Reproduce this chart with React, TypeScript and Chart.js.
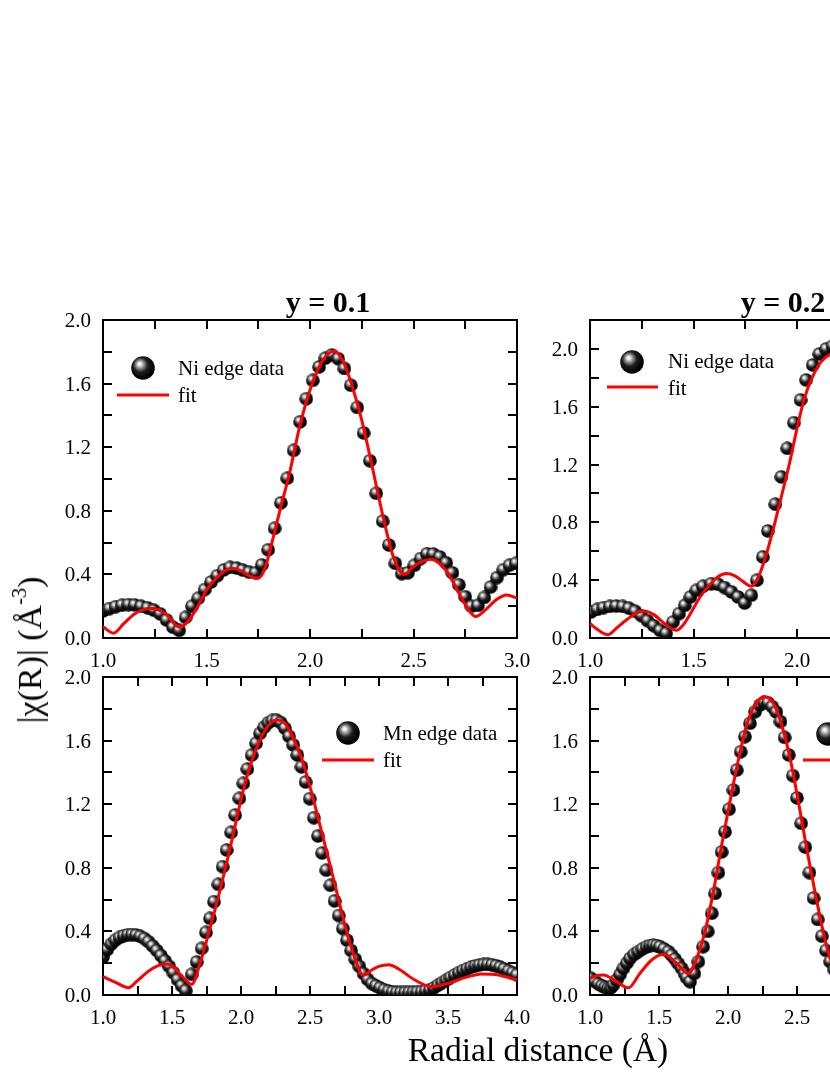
import React, { useEffect, useRef } from "react";
import { Chart, registerables } from "chart.js";

Chart.register(...registerables);

// ---------------- data ----------------
// Panel 1: y = 0.1, Ni edge
const P1_DATA_X = [1.000,1.031,1.061,1.092,1.123,1.153,1.184,1.215,1.245,1.276,1.307,1.338,1.368,1.399,1.430,1.460,1.491,1.522,1.552,1.583,1.614,1.645,1.675,1.706,1.737,1.767,1.798,1.829,1.859,1.890,1.921,1.952,1.982,2.013,2.044,2.074,2.105,2.136,2.166,2.197,2.228,2.259,2.289,2.320,2.351,2.381,2.412,2.443,2.473,2.504,2.535,2.565,2.596,2.627,2.658,2.688,2.719,2.750,2.780,2.811,2.842,2.872,2.903,2.934,2.964,2.995];
const P1_DATA_Y = [0.17,0.185,0.197,0.206,0.21,0.208,0.2,0.19,0.175,0.152,0.113,0.068,0.048,0.13,0.2,0.25,0.305,0.352,0.392,0.428,0.444,0.44,0.427,0.414,0.41,0.46,0.555,0.69,0.85,1.005,1.18,1.36,1.505,1.62,1.705,1.76,1.78,1.757,1.695,1.59,1.45,1.29,1.115,0.91,0.735,0.585,0.47,0.405,0.41,0.457,0.5,0.53,0.528,0.51,0.473,0.41,0.335,0.26,0.2,0.205,0.255,0.32,0.38,0.43,0.458,0.47];
const P1_FIT_X = [1.00,1.05,1.10,1.15,1.20,1.233,1.27,1.305,1.37,1.40,1.45,1.50,1.55,1.60,1.63,1.67,1.70,1.748,1.78,1.82,1.86,1.90,1.95,2.00,2.05,2.10,2.12,2.16,2.20,2.25,2.30,2.35,2.40,2.43,2.455,2.50,2.55,2.585,2.62,2.67,2.72,2.77,2.80,2.85,2.90,2.95,3.00];
const P1_FIT_Y = [0.07,0.03,0.09,0.15,0.18,0.187,0.175,0.15,0.068,0.09,0.18,0.30,0.38,0.43,0.437,0.42,0.395,0.376,0.43,0.62,0.83,1.03,1.33,1.56,1.72,1.80,1.805,1.74,1.60,1.37,1.08,0.78,0.52,0.43,0.40,0.45,0.485,0.495,0.475,0.40,0.28,0.17,0.135,0.18,0.24,0.27,0.25];

// Panel 2: y = 0.2, Ni edge
const P2_DATA_X = [1.005,1.035,1.065,1.096,1.127,1.158,1.188,1.218,1.248,1.278,1.308,1.338,1.368,1.400,1.430,1.458,1.485,1.514,1.546,1.586,1.618,1.650,1.683,1.715,1.747,1.779,1.806,1.835,1.859,1.895,1.924,1.953,1.985,2.017,2.044,2.076,2.108,2.141,2.172,2.203];
const P2_DATA_Y = [0.18,0.198,0.21,0.219,0.221,0.218,0.206,0.185,0.155,0.12,0.085,0.053,0.032,0.11,0.169,0.226,0.284,0.33,0.358,0.376,0.372,0.349,0.319,0.284,0.242,0.296,0.40,0.561,0.741,0.926,1.115,1.312,1.49,1.647,1.785,1.889,1.965,2.0,2.02,2.02];
const P2_FIT_X = [1.00,1.04,1.087,1.13,1.18,1.23,1.265,1.31,1.36,1.418,1.45,1.49,1.53,1.58,1.62,1.659,1.70,1.74,1.779,1.81,1.85,1.89,1.93,1.964,2.00,2.036,2.076,2.116,2.157,2.20];
const P2_FIT_Y = [0.10,0.055,0.023,0.07,0.13,0.175,0.185,0.16,0.10,0.053,0.09,0.18,0.28,0.37,0.425,0.446,0.43,0.39,0.358,0.41,0.57,0.78,1.01,1.21,1.45,1.66,1.81,1.91,1.96,1.98];

// Panel 3: y = 0.1, Mn edge
const P3_DATA_X = [1.00,1.03,1.06,1.09,1.12,1.15,1.18,1.21,1.24,1.27,1.30,1.33,1.36,1.39,1.42,1.45,1.48,1.51,1.54,1.57,1.60,1.643,1.679,1.715,1.746,1.775,1.804,1.836,1.867,1.896,1.928,1.957,1.988,2.017,2.046,2.077,2.109,2.138,2.168,2.198,2.228,2.258,2.288,2.318,2.348,2.378,2.408,2.438,2.468,2.498,2.528,2.558,2.588,2.618,2.648,2.678,2.708,2.738,2.768,2.798,2.828,2.858,2.888,2.918,2.948,2.978,3.008,3.038,3.068,3.098,3.128,3.158,3.188,3.218,3.248,3.278,3.308,3.338,3.368,3.398,3.428,3.458,3.488,3.518,3.548,3.578,3.608,3.638,3.668,3.698,3.728,3.758,3.788,3.818,3.848,3.878,3.908,3.938,3.968,3.998];
const P3_DATA_Y = [0.24,0.285,0.32,0.345,0.362,0.373,0.379,0.38,0.377,0.369,0.355,0.335,0.308,0.28,0.248,0.215,0.18,0.14,0.097,0.058,0.028,0.13,0.208,0.293,0.394,0.482,0.587,0.696,0.807,0.912,1.023,1.132,1.237,1.331,1.421,1.509,1.583,1.646,1.684,1.712,1.727,1.728,1.713,1.678,1.627,1.573,1.51,1.435,1.34,1.235,1.115,1.0,0.893,0.785,0.69,0.592,0.5,0.418,0.345,0.28,0.225,0.18,0.135,0.098,0.072,0.058,0.045,0.033,0.025,0.02,0.017,0.016,0.016,0.017,0.018,0.02,0.022,0.027,0.033,0.045,0.062,0.078,0.094,0.11,0.125,0.14,0.154,0.165,0.175,0.183,0.189,0.192,0.193,0.19,0.184,0.175,0.164,0.152,0.14,0.127];
const P3_FIT_X = [1.00,1.09,1.184,1.25,1.33,1.40,1.46,1.51,1.57,1.643,1.70,1.775,1.848,1.92,1.969,2.017,2.077,2.138,2.198,2.258,2.319,2.38,2.44,2.50,2.584,2.645,2.705,2.766,2.826,2.886,2.947,3.00,3.07,3.14,3.26,3.38,3.50,3.623,3.744,3.865,4.00];
const P3_FIT_Y = [0.115,0.08,0.046,0.09,0.15,0.185,0.195,0.178,0.12,0.067,0.19,0.42,0.66,0.92,1.11,1.29,1.468,1.604,1.694,1.73,1.709,1.614,1.488,1.31,1.027,0.818,0.608,0.398,0.23,0.125,0.157,0.18,0.19,0.165,0.094,0.052,0.073,0.109,0.132,0.126,0.094];

// Panel 4: y = 0.2, Mn edge
const P4_DATA_X = [1.007,1.035,1.06,1.085,1.109,1.13,1.15,1.17,1.193,1.218,1.242,1.266,1.29,1.32,1.35,1.38,1.41,1.435,1.459,1.483,1.507,1.537,1.568,1.592,1.616,1.64,1.664,1.685,1.70,1.725,1.756,1.785,1.82,1.853,1.882,1.906,1.93,1.954,1.978,2.007,2.039,2.063,2.092,2.123,2.159,2.196,2.232,2.262,2.29,2.321,2.35,2.38,2.41,2.44,2.47,2.50,2.53,2.56,2.59,2.62,2.65,2.68,2.71,2.74,2.77,2.80];
const P4_DATA_Y = [0.105,0.085,0.07,0.058,0.048,0.042,0.045,0.065,0.094,0.13,0.168,0.2,0.23,0.255,0.273,0.29,0.304,0.311,0.314,0.311,0.304,0.29,0.273,0.25,0.226,0.197,0.168,0.135,0.109,0.084,0.136,0.21,0.304,0.40,0.514,0.639,0.77,0.90,1.027,1.168,1.289,1.415,1.53,1.625,1.709,1.782,1.824,1.84,1.838,1.813,1.78,1.72,1.62,1.51,1.38,1.24,1.08,0.93,0.77,0.61,0.475,0.37,0.28,0.21,0.16,0.12];
const P4_FIT_X = [1.00,1.05,1.097,1.193,1.278,1.362,1.447,1.531,1.616,1.713,1.773,1.833,1.894,1.954,2.014,2.075,2.135,2.196,2.268,2.329,2.389,2.45,2.51,2.57,2.63,2.69,2.74,2.80,2.86];
const P4_FIT_Y = [0.105,0.122,0.126,0.084,0.045,0.136,0.22,0.256,0.21,0.136,0.23,0.398,0.65,0.943,1.216,1.478,1.698,1.824,1.876,1.834,1.698,1.488,1.216,0.922,0.65,0.398,0.23,0.10,0.06];

// tick labels and texts
const X_LABELS_A = [1.0, 1.5, 2.0, 2.5, 3.0];
const X_LABELS_B = [1.0, 1.5, 2.0, 2.5, 3.0, 3.5, 4.0];
const Y_LABELS = [0.0, 0.4, 0.8, 1.2, 1.6, 2.0];
const PANEL_TITLES = ["y = 0.1", "y = 0.2"];
const DATA_LABELS = ["Ni edge data", "Ni edge data", "Mn edge data", "Mn edge data"];
const FIT_LABEL = "fit";
const X_TITLE = "Radial distance (Å)";

const FONT = "'Liberation Serif', 'Times New Roman', Times, serif";
const CANVAS_W = 497;
const CANVAS_H = 400;

type Leg = { sx: number; sy: number; tx: number; ty1: number; lx1: number; lx2: number; ly: number; ty2: number };
type Panel = {
  left: number; top: number; xMax: number; yMax: number; xLabels: number[];
  dataX: number[]; dataY: number[]; fitX: number[]; fitY: number[];
  label: string; legend: Leg;
};

const PANELS: Panel[] = [
  { left: 40, top: 300, xMax: 3, yMax: 2.0, xLabels: X_LABELS_A, dataX: P1_DATA_X, dataY: P1_DATA_Y, fitX: P1_FIT_X, fitY: P1_FIT_Y, label: DATA_LABELS[0],
    legend: { sx: 40, sy: 48, tx: 75, ty1: 55, lx1: 14, lx2: 66, ly: 75, ty2: 82 } },
  { left: 527, top: 300, xMax: 3, yMax: 2.2, xLabels: X_LABELS_A, dataX: P2_DATA_X, dataY: P2_DATA_Y, fitX: P2_FIT_X, fitY: P2_FIT_Y, label: DATA_LABELS[1],
    legend: { sx: 42, sy: 42, tx: 78, ty1: 48, lx1: 17, lx2: 68, ly: 67, ty2: 75 } },
  { left: 40, top: 657, xMax: 4, yMax: 2.0, xLabels: X_LABELS_B, dataX: P3_DATA_X, dataY: P3_DATA_Y, fitX: P3_FIT_X, fitY: P3_FIT_Y, label: DATA_LABELS[2],
    legend: { sx: 245, sy: 56, tx: 280, ty1: 63, lx1: 219, lx2: 271, ly: 83, ty2: 90 } },
  { left: 527, top: 657, xMax: 4, yMax: 2.0, xLabels: X_LABELS_B, dataX: P4_DATA_X, dataY: P4_DATA_Y, fitX: P4_FIT_X, fitY: P4_FIT_Y, label: DATA_LABELS[3],
    legend: { sx: 238, sy: 57, tx: 273, ty1: 63, lx1: 213, lx2: 265, ly: 83, ty2: 90 } },
];

function makeSphere(d: number): HTMLCanvasElement {
  const c = document.createElement("canvas");
  c.width = d;
  c.height = d;
  const ctx = c.getContext("2d")!;
  const r = d / 2;
  const g = ctx.createRadialGradient(r * 0.7, r * 0.64, 0, r * 0.85, r * 0.82, r * 1.05);
  g.addColorStop(0, "#ffffff");
  g.addColorStop(0.12, "#ececec");
  g.addColorStop(0.33, "#8a8a8a");
  g.addColorStop(0.58, "#1e1e1e");
  g.addColorStop(1, "#000000");
  ctx.fillStyle = g;
  ctx.beginPath();
  ctx.arc(r, r, r - 0.2, 0, Math.PI * 2);
  ctx.fill();
  return c;
}

function framePlugin(p: Panel) {
  return {
    id: "frame",
    beforeDatasetsDraw(chart: any) {
      const { ctx, chartArea: a, scales } = chart;
      const T = 9;
      ctx.save();
      ctx.strokeStyle = "#000";
      ctx.lineWidth = 2;
      ctx.beginPath();
      const nx = Math.round((p.xMax - 1) / 0.25);
      for (let k = 1; k < nx; k++) {
        const px = Math.round(scales.x.getPixelForValue(1 + k * 0.25));
        ctx.moveTo(px, a.bottom);
        ctx.lineTo(px, a.bottom - T);
        ctx.moveTo(px, a.top);
        ctx.lineTo(px, a.top + T);
      }
      const ny = Math.round(p.yMax / 0.2);
      for (let k = 1; k < ny; k++) {
        const py = Math.round(scales.y.getPixelForValue(k * 0.2));
        ctx.moveTo(a.left, py);
        ctx.lineTo(a.left + T, py);
        ctx.moveTo(a.right, py);
        ctx.lineTo(a.right - T, py);
      }
      ctx.stroke();
      ctx.strokeRect(a.left, a.top, a.right - a.left, a.bottom - a.top);

      // tick labels
      ctx.fillStyle = "#000";
      ctx.font = `21px ${FONT}`;
      ctx.textBaseline = "alphabetic";
      ctx.textAlign = "center";
      p.xLabels.forEach((v) => {
        ctx.fillText(v.toFixed(1), scales.x.getPixelForValue(v), a.bottom + 29);
      });
      ctx.textAlign = "right";
      Y_LABELS.forEach((v) => {
        ctx.fillText(v.toFixed(1), a.left - 12, scales.y.getPixelForValue(v) + 7);
      });
      ctx.restore();
    },
  };
}

function legendPlugin(p: Panel, bigSphere: HTMLCanvasElement) {
  return {
    id: "customLegend",
    afterDraw(chart: any) {
      const { ctx, chartArea: a } = chart;
      const L = p.legend;
      ctx.save();
      ctx.drawImage(bigSphere, a.left + L.sx - bigSphere.width / 2, a.top + L.sy - bigSphere.height / 2);
      ctx.strokeStyle = "#ff0000";
      ctx.lineWidth = 3;
      ctx.beginPath();
      ctx.moveTo(a.left + L.lx1, a.top + L.ly);
      ctx.lineTo(a.left + L.lx2, a.top + L.ly);
      ctx.stroke();
      ctx.fillStyle = "#000";
      ctx.font = `21px ${FONT}`;
      ctx.textBaseline = "alphabetic";
      ctx.textAlign = "left";
      ctx.fillText(p.label, a.left + L.tx, a.top + L.ty1);
      ctx.fillText(FIT_LABEL, a.left + L.tx, a.top + L.ty2);
      ctx.restore();
    },
  };
}

export default function App() {
  const refs = useRef<(HTMLCanvasElement | null)[]>([]);

  useEffect(() => {
    Chart.defaults.font.family = FONT;
    Chart.defaults.color = "#000";
    const small = makeSphere(14);
    const big = makeSphere(24);
    const charts = PANELS.map((p, i) => {
      const canvas = refs.current[i]!;
      return new Chart(canvas, {
        type: "scatter",
        data: {
          datasets: [
            {
              label: FIT_LABEL,
              data: p.fitX.map((x, j) => ({ x, y: p.fitY[j] })),
              showLine: true,
              borderColor: "#ff0000",
              backgroundColor: "#ff0000",
              borderWidth: 3,
              pointRadius: 0,
              pointHoverRadius: 0,
              cubicInterpolationMode: "monotone",
              fill: false,
            } as any,
            {
              label: p.label,
              data: p.dataX.map((x, j) => ({ x, y: p.dataY[j] })),
              showLine: false,
              pointStyle: small as any,
              pointRadius: 7,
              pointHoverRadius: 7,
            } as any,
          ],
        },
        options: {
          responsive: false,
          animation: false,
          devicePixelRatio: 1,
          events: [],
          layout: { padding: { top: 20, right: 20, left: 0, bottom: 0 } },
          plugins: { legend: { display: false }, tooltip: { enabled: false }, title: { display: false } },
          scales: {
            x: {
              type: "linear",
              min: 1,
              max: p.xMax,
              grid: { display: false },
              border: { display: false },
              ticks: { display: false },
              afterFit: (s: any) => {
                s.height = 62;
              },
            },
            y: {
              type: "linear",
              min: 0,
              max: p.yMax,
              grid: { display: false },
              border: { display: false },
              ticks: { display: false },
              afterFit: (s: any) => {
                s.width = 63;
              },
            },
          },
        } as any,
        plugins: [framePlugin(p), legendPlugin(p, big)],
      });
    });
    return () => charts.forEach((c) => c.destroy());
  }, []);

  const titleStyle = (cx: number): React.CSSProperties => ({
    position: "absolute",
    left: cx,
    top: 312 - 0.8375 * 30,
    transform: "translateX(-50%)",
    font: `bold 30px ${FONT}`,
    lineHeight: 1,
    whiteSpace: "nowrap",
    color: "#000",
  });

  return (
    <div
      style={{
        position: "absolute",
        left: 0,
        top: 0,
        width: 830,
        height: 1075,
        overflow: "hidden",
        background: "#fff",
      }}
    >
      {PANELS.map((p, i) => (
        <canvas
          key={i}
          ref={(el) => {
            refs.current[i] = el;
          }}
          width={CANVAS_W}
          height={CANVAS_H}
          style={{ position: "absolute", left: p.left, top: p.top, width: CANVAS_W, height: CANVAS_H }}
        />
      ))}
      <div style={titleStyle(328)}>{PANEL_TITLES[0]}</div>
      <div style={titleStyle(783)}>{PANEL_TITLES[1]}</div>
      <div
        style={{
          position: "absolute",
          left: 538,
          top: 1061 - 0.8375 * 33.5,
          transform: "translateX(-50%)",
          font: `33.5px ${FONT}`,
          lineHeight: 1,
          whiteSpace: "nowrap",
          color: "#000",
        }}
      >
        {X_TITLE}
      </div>
      <div
        style={{
          position: "absolute",
          left: 30,
          top: 650,
          transform: "translate(-50%, -50%) rotate(-90deg)",
          font: `34px ${FONT}`,
          lineHeight: 1,
          whiteSpace: "nowrap",
          color: "#000",
        }}
      >
        |χ(R)| (Å<sup style={{ fontSize: "60%", verticalAlign: "0.75em", lineHeight: 0 }}>-3</sup>)
      </div>
    </div>
  );
}
